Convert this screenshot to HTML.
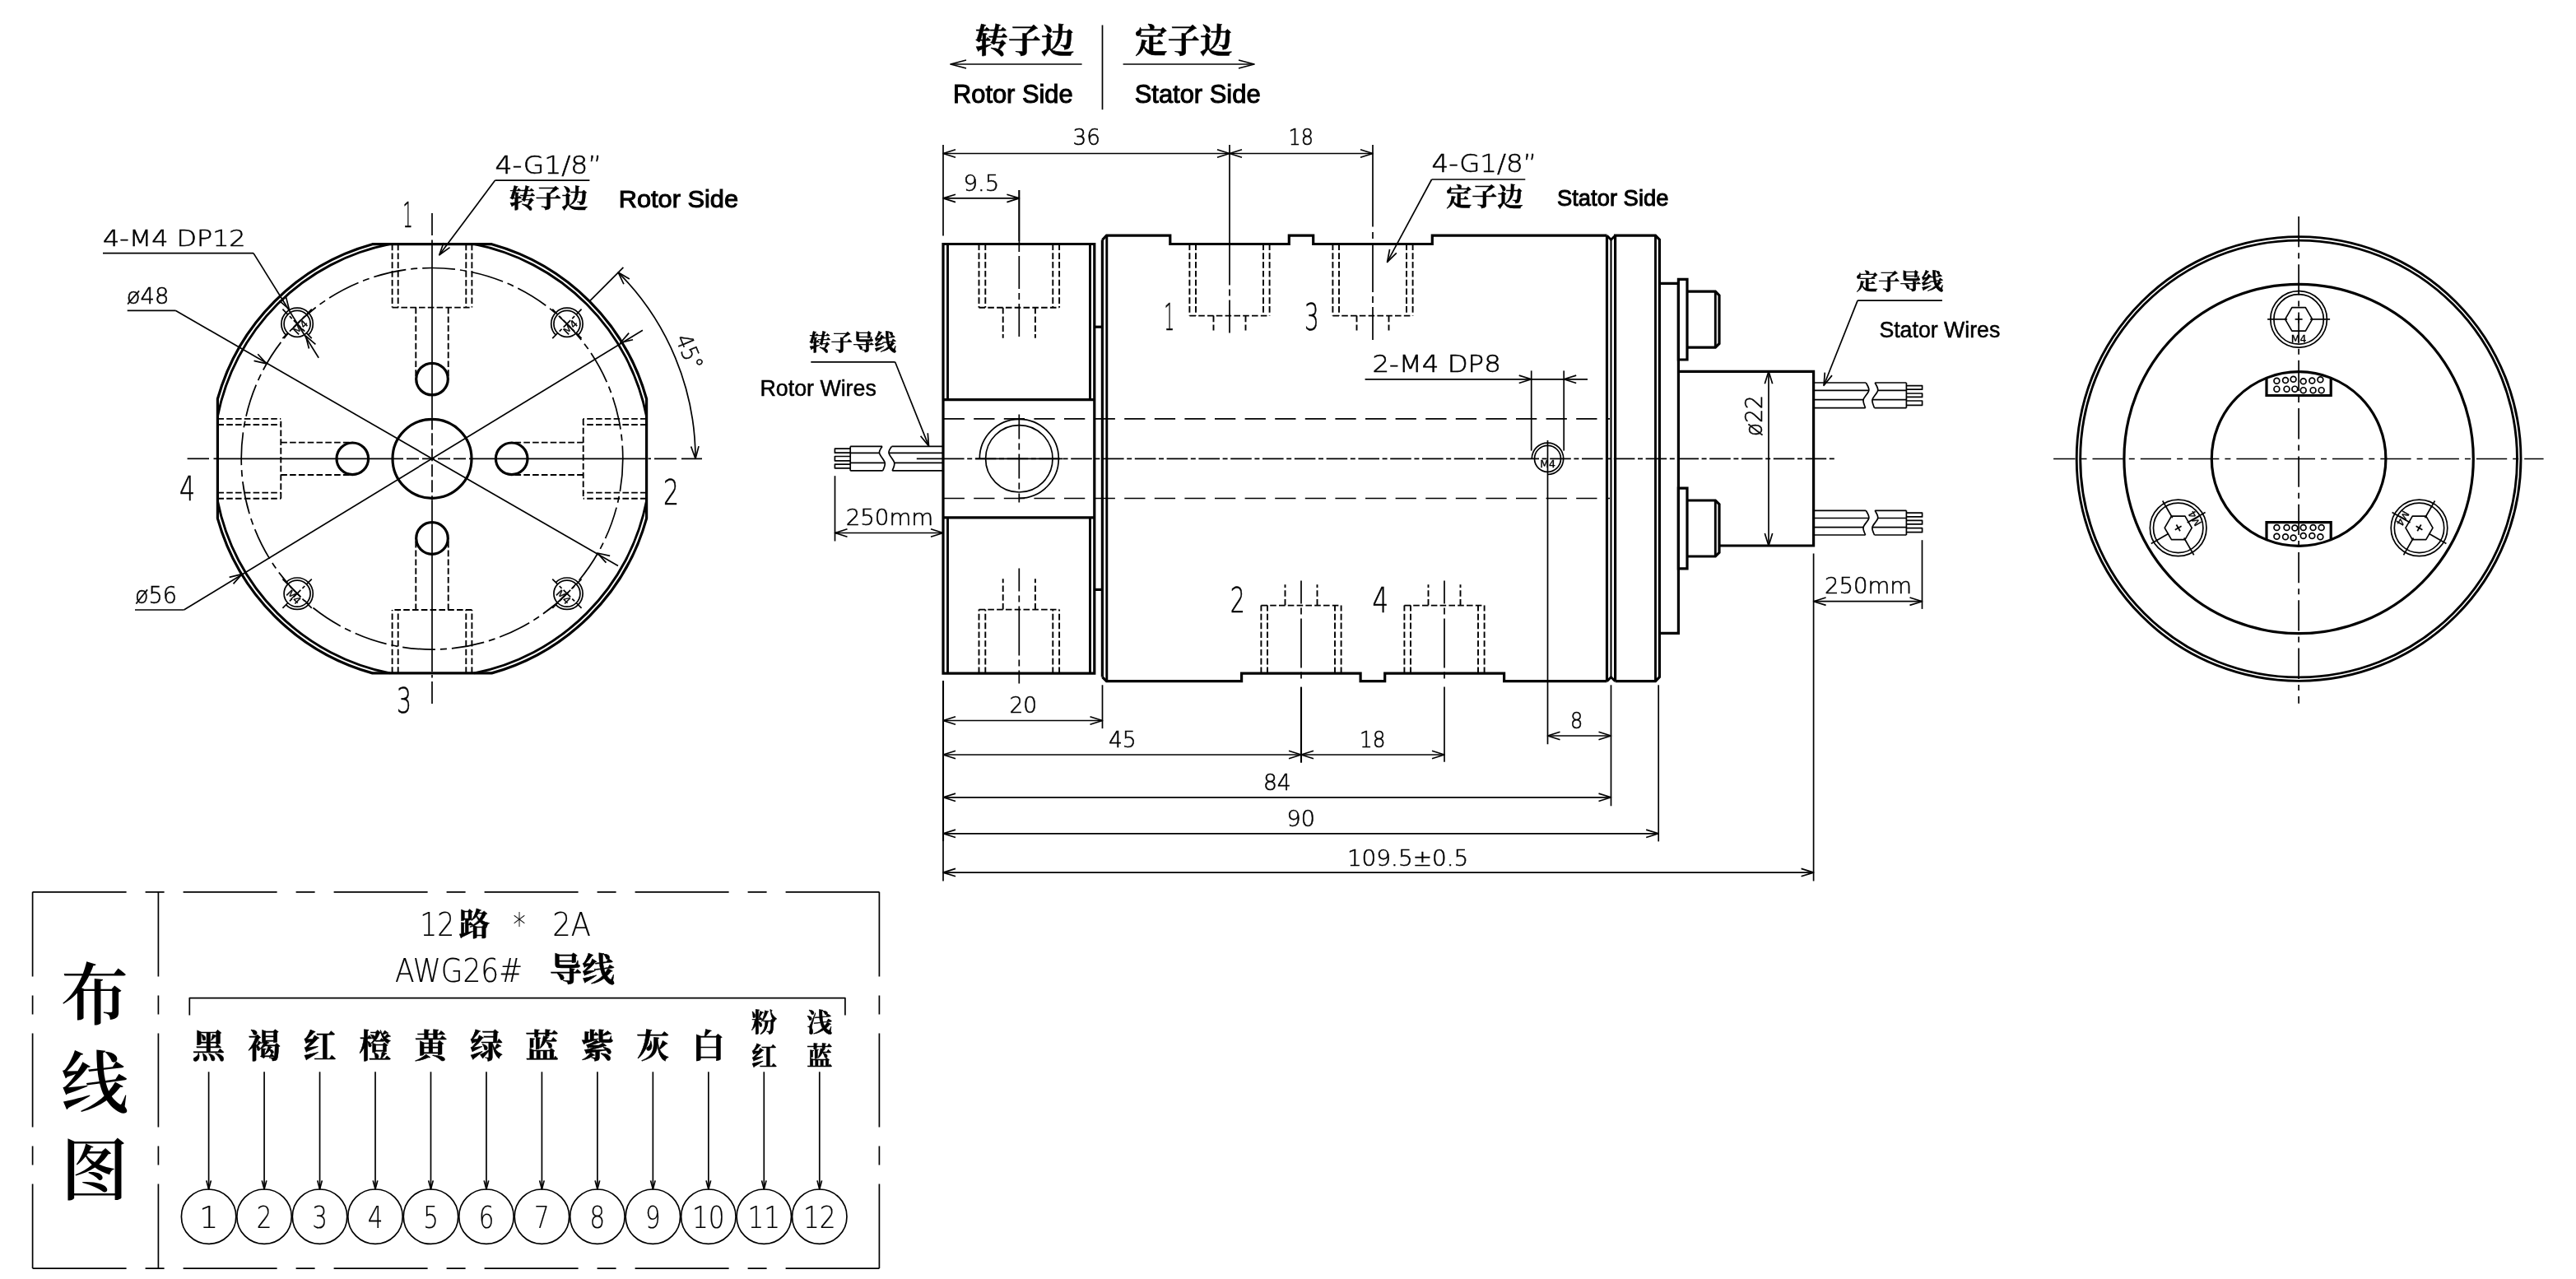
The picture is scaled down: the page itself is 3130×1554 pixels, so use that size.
<!DOCTYPE html>
<html lang="zh"><head><meta charset="utf-8"><title>Slip ring drawing</title>
<style>
html,body{margin:0;padding:0;background:#fff}
svg{display:block;will-change:transform}
path,circle{fill:none;stroke:#000}
.k{stroke-width:3.2;stroke-linejoin:miter}
.m{stroke-width:2.9}
.m2{stroke-width:2.1}
.t{stroke-width:1.7;stroke-linejoin:round}
.t2{stroke-width:2.1}
.c{stroke-width:1.7}
.h{stroke-width:1.9;stroke-dasharray:7.6 3.2}
text{fill:#000;stroke:none}
.cad{font-family:"DejaVu Sans Light","DejaVu Sans","Liberation Sans",sans-serif;font-weight:200;stroke:#000;stroke-width:0.55}
.cadl{font-family:"DejaVu Sans Light","DejaVu Sans","Liberation Sans",sans-serif;font-weight:200;stroke:#000;stroke-width:0.2}
.cadb{font-family:"DejaVu Sans","Liberation Sans",sans-serif;stroke:#000;stroke-width:0.35}
.a{font-family:"Liberation Sans",Arial,sans-serif;stroke:#000;stroke-width:0.5}
.ab{font-family:"Liberation Sans",Arial,sans-serif;stroke:#000;stroke-width:1}
.zb{font-family:"Liberation Serif","Noto Serif CJK SC",serif;font-weight:700;stroke:#000;stroke-width:0.5}
.zm{font-family:"Liberation Serif","Noto Serif CJK SC",serif;font-weight:600}
</style></head><body>
<svg width="3130" height="1554" viewBox="0 0 3130 1554">
<rect width="3130" height="1554" fill="#fff" stroke="none"/>
<path class="k" d="M452.49 296.7L597.51 296.7A270.5 270.5 0 0 1 785.6 484.79L785.6 629.81A270.5 270.5 0 0 1 597.51 817.9L452.49 817.9A270.5 270.5 0 0 1 264.4 629.81L264.4 484.79A270.5 270.5 0 0 1 452.49 296.7Z"/>
<path class="m" d="M785.6 506.01A265.6 265.6 0 0 0 576.29 296.7"/>
<path class="m" d="M473.71 296.7A265.6 265.6 0 0 0 264.4 506.01"/>
<path class="m" d="M264.4 608.59A265.6 265.6 0 0 0 473.71 817.9"/>
<path class="m" d="M576.29 817.9A265.6 265.6 0 0 0 785.6 608.59"/>
<circle class="c" cx="525" cy="557.3" r="231.8" stroke-dasharray="40 6 8 6"/>
<path class="c" d="M227.6 557.3L254 557.3"/>
<path class="c" d="M259.5 557.3L263 557.3"/>
<path class="c" d="M266 557.3L475 557.3"/>
<path class="c" d="M475 557.3L575 557.3" stroke-dasharray="15 4"/>
<path class="c" d="M575 557.3L784 557.3"/>
<path class="c" d="M787.5 557.3L791 557.3"/>
<path class="c" d="M795 557.3L853 557.3" stroke-dasharray="27 6 30"/>
<path class="c" d="M525 259L525 286"/>
<path class="c" d="M525 291.5L525 295"/>
<path class="c" d="M525 298L525 507.3"/>
<path class="c" d="M525 507.3L525 607.3" stroke-dasharray="15 4"/>
<path class="c" d="M525 607.3L525 816"/>
<path class="c" d="M525 820L525 823.5"/>
<path class="c" d="M525 828L525 855"/>
<circle class="k" cx="525" cy="557.3" r="48"/>
<g transform="rotate(0 525 557.3)">
<circle class="k" cx="525" cy="460.6" r="19.3"/>
<path class="h" d="M483.7 296.7L483.7 373.6"/>
<path class="h" d="M566.3 296.7L566.3 373.6"/>
<path class="h" d="M476.6 296.7L476.6 373.6"/>
<path class="h" d="M573.4 296.7L573.4 373.6"/>
<path class="h" d="M476.6 373.6L573.4 373.6"/>
<path class="h" d="M505.3 373.6L505.3 460.6"/>
<path class="h" d="M544.7 373.6L544.7 460.6"/>
</g>
<g transform="rotate(90 525 557.3)">
<circle class="k" cx="525" cy="460.6" r="19.3"/>
<path class="h" d="M483.7 296.7L483.7 373.6"/>
<path class="h" d="M566.3 296.7L566.3 373.6"/>
<path class="h" d="M476.6 296.7L476.6 373.6"/>
<path class="h" d="M573.4 296.7L573.4 373.6"/>
<path class="h" d="M476.6 373.6L573.4 373.6"/>
<path class="h" d="M505.3 373.6L505.3 460.6"/>
<path class="h" d="M544.7 373.6L544.7 460.6"/>
</g>
<g transform="rotate(180 525 557.3)">
<circle class="k" cx="525" cy="460.6" r="19.3"/>
<path class="h" d="M483.7 296.7L483.7 373.6"/>
<path class="h" d="M566.3 296.7L566.3 373.6"/>
<path class="h" d="M476.6 296.7L476.6 373.6"/>
<path class="h" d="M573.4 296.7L573.4 373.6"/>
<path class="h" d="M476.6 373.6L573.4 373.6"/>
<path class="h" d="M505.3 373.6L505.3 460.6"/>
<path class="h" d="M544.7 373.6L544.7 460.6"/>
</g>
<g transform="rotate(270 525 557.3)">
<circle class="k" cx="525" cy="460.6" r="19.3"/>
<path class="h" d="M483.7 296.7L483.7 373.6"/>
<path class="h" d="M566.3 296.7L566.3 373.6"/>
<path class="h" d="M476.6 296.7L476.6 373.6"/>
<path class="h" d="M573.4 296.7L573.4 373.6"/>
<path class="h" d="M476.6 373.6L573.4 373.6"/>
<path class="h" d="M505.3 373.6L505.3 460.6"/>
<path class="h" d="M544.7 373.6L544.7 460.6"/>
</g>
<g transform="rotate(-45 361.09 393.39)">
<circle class="t" cx="361.09" cy="393.39" r="16"/>
<path class="t" d="M361.09 412.59A19.2 19.2 0 1 0 341.89 393.39"/>
<path class="t" d="M336.09 393.39L386.09 393.39" stroke-dasharray="9 3 4 3 12 3 4 3 9"/>
<path class="t" d="M361.09 368.39L361.09 418.39" stroke-dasharray="9 3 4 3 12 3 4 3 9"/>
<text class="cadb" x="361.09" y="403.89" font-size="12.5" text-anchor="middle">M4</text>
</g>
<g transform="rotate(-45 688.91 393.39)">
<circle class="t" cx="688.91" cy="393.39" r="16"/>
<path class="t" d="M688.91 412.59A19.2 19.2 0 1 0 669.71 393.39"/>
<path class="t" d="M663.91 393.39L713.91 393.39" stroke-dasharray="9 3 4 3 12 3 4 3 9"/>
<path class="t" d="M688.91 368.39L688.91 418.39" stroke-dasharray="9 3 4 3 12 3 4 3 9"/>
<text class="cadb" x="688.91" y="403.89" font-size="12.5" text-anchor="middle">M4</text>
</g>
<g transform="rotate(45 688.91 721.21)">
<circle class="t" cx="688.91" cy="721.21" r="16"/>
<path class="t" d="M688.91 740.41A19.2 19.2 0 1 0 669.71 721.21"/>
<path class="t" d="M663.91 721.21L713.91 721.21" stroke-dasharray="9 3 4 3 12 3 4 3 9"/>
<path class="t" d="M688.91 696.21L688.91 746.21" stroke-dasharray="9 3 4 3 12 3 4 3 9"/>
<text class="cadb" x="688.91" y="731.71" font-size="12.5" text-anchor="middle">M4</text>
</g>
<g transform="rotate(45 361.09 721.21)">
<circle class="t" cx="361.09" cy="721.21" r="16"/>
<path class="t" d="M361.09 740.41A19.2 19.2 0 1 0 341.89 721.21"/>
<path class="t" d="M336.09 721.21L386.09 721.21" stroke-dasharray="9 3 4 3 12 3 4 3 9"/>
<path class="t" d="M361.09 696.21L361.09 746.21" stroke-dasharray="9 3 4 3 12 3 4 3 9"/>
<text class="cadb" x="361.09" y="731.71" font-size="12.5" text-anchor="middle">M4</text>
</g>
<path class="t" d="M154.7 377.3L213.2 377.3"/>
<path class="t" d="M213.2 377.3L751 687.6"/>
<path class="t" d="M308.56 438.37L323.9 441.8L313.26 430.23"/>
<path class="t" d="M741.14 675.43L725.8 672L736.44 683.57"/>
<path class="t" d="M164 741L223.5 741"/>
<path class="t" d="M223.5 741L780.9 401.3"/>
<path class="t" d="M283.54 709.42L293.9 697.6L278.65 701.39"/>
<path class="t" d="M764.16 404.68L753.8 416.5L769.05 412.71"/>
<path class="t" d="M125 307.6L308 307.6"/>
<path class="t" d="M308 307.6L387.2 434.7"/>
<path class="t" d="M339.38 365.35L351.3 375.6L347.36 360.38"/>
<path class="t" d="M383.42 418.45L371.5 408.2L375.44 423.42"/>
<path class="t" d="M601.6 219.1L716.4 219.1"/>
<path class="t" d="M601.6 219.1L533.8 309.8"/>
<path class="t" d="M539.02 294.97L533.8 309.8L546.55 300.6"/>
<path class="t" d="M845 557.3A320 320 0 0 0 751.27 331.03"/>
<path class="t" d="M839.65 542.52L845 557.3L849.04 542.11"/>
<path class="t" d="M764.87 338.91L751.27 331.03L757.94 345.26"/>
<path class="t" d="M716.5 365.9L757.4 324.9"/>
<text class="cad" font-size="27.4" text-anchor="middle" textLength="44" lengthAdjust="spacingAndGlyphs" transform="translate(828.96 431.4) rotate(67.5)">45°</text>
<text class="cad" x="125" y="298.8" font-size="26.61" textLength="173.6" lengthAdjust="spacingAndGlyphs">4-M4 DP12</text>
<text class="cad" x="153.8" y="368.6" font-size="25.79" textLength="51.6" lengthAdjust="spacingAndGlyphs">ø48</text>
<text class="cad" x="164" y="732.5" font-size="28.81" textLength="51" lengthAdjust="spacingAndGlyphs">ø56</text>
<text class="cad" x="489.5" y="276.3" font-size="42.94" textLength="12" lengthAdjust="spacingAndGlyphs">1</text>
<text class="cad" x="806" y="613" font-size="42.52" textLength="19" lengthAdjust="spacingAndGlyphs">2</text>
<text class="cad" x="482" y="866" font-size="42.52" textLength="18" lengthAdjust="spacingAndGlyphs">3</text>
<text class="cad" x="218" y="608" font-size="41.15" textLength="19" lengthAdjust="spacingAndGlyphs">4</text>
<text class="cad" x="601.6" y="210.6" font-size="29.9" textLength="129.8" lengthAdjust="spacingAndGlyphs">4-G1/8”</text>
<text class="zb" x="618.8" y="251.5" font-size="31" textLength="95.4" lengthAdjust="spacingAndGlyphs">转子边</text>
<text class="ab" x="751.7" y="251.9" font-size="29" textLength="145.4" lengthAdjust="spacingAndGlyphs">Rotor Side</text>
<path class="k" d="M1146 296.5L1329.8 296.5L1329.8 818.2L1146 818.2Z"/>
<path class="k" d="M1146 485.6L1329.8 485.6"/>
<path class="k" d="M1146 628.8L1329.8 628.8"/>
<path class="m" d="M1151.5 296.5L1151.5 485.6"/>
<path class="m" d="M1324.5 296.5L1324.5 485.6"/>
<path class="m" d="M1151.5 628.8L1151.5 818.2"/>
<path class="m" d="M1324.5 628.8L1324.5 818.2"/>
<path class="k" d="M1329.8 397.2L1339.4 397.2"/>
<path class="k" d="M1329.8 716.4L1339.4 716.4"/>
<path class="h" d="M1197.3 296.5L1197.3 373.7"/>
<path class="h" d="M1279.3 296.5L1279.3 373.7"/>
<path class="h" d="M1189.5 296.5L1189.5 373.7"/>
<path class="h" d="M1287.1 296.5L1287.1 373.7"/>
<path class="h" d="M1189.5 373.7L1287.1 373.7"/>
<path class="h" d="M1218.7 373.7L1218.7 410.7"/>
<path class="h" d="M1257.9 373.7L1257.9 410.7"/>
<path class="h" d="M1197.3 818.2L1197.3 740.6"/>
<path class="h" d="M1279.3 818.2L1279.3 740.6"/>
<path class="h" d="M1189.5 818.2L1189.5 740.6"/>
<path class="h" d="M1287.1 818.2L1287.1 740.6"/>
<path class="h" d="M1189.5 740.6L1287.1 740.6"/>
<path class="h" d="M1218.7 740.6L1218.7 703.3"/>
<path class="h" d="M1257.9 740.6L1257.9 703.3"/>
<path class="c" d="M1238.3 231L1238.3 410.7" stroke-dasharray="62 5 8 5 40 5 8 5 40 5"/>
<path class="c" d="M1238.3 690.4L1238.3 830.4" stroke-dasharray="28 5 8 5 60 5 8 5 40"/>
<circle class="t" cx="1238.3" cy="557.3" r="40.7"/>
<path class="t" d="M1238.3 605.3A48 48 0 1 0 1190.3 557.3"/>
<path class="c" d="M1238.3 503.6L1238.3 610.4" stroke-dasharray="30 5 8 5 30 5 8 5 30"/>
<path class="c" d="M1185.3 557.3L1291.3 557.3"/>
<path class="k" d="M1339.4 291.5L1344.5 286.2L1421.8 286.2L1421.8 296.5L1566.3 296.5L1566.3 286.2L1595.7 286.2L1595.7 296.5L1740.3 296.5L1740.3 286.2L1952.5 286.2"/>
<path class="k" d="M1339.4 822.6L1344.5 827.7L1508.6 827.7L1508.6 818.2L1653.1 818.2L1653.1 827.7L1682.7 827.7L1682.7 818.2L1827.6 818.2L1827.6 827.7L1952.5 827.7"/>
<path class="k" d="M1339.4 291.5L1339.4 822.6"/>
<path class="m" d="M1344.8 286.2L1344.8 827.7"/>
<path class="k" d="M1952.5 286.2L1952.5 827.7"/>
<path class="m" d="M1952.5 286.2L1957.5 291.2L1962.6 286.2"/>
<path class="m" d="M1952.5 827.7L1957.5 822.7L1962.6 827.7"/>
<path class="m2" d="M1957.5 291.2L1957.5 822.7"/>
<path class="k" d="M1962.6 827.7L1962.6 286.2L2011.5 286.2L2016.4 291.2L2016.4 822.7L2011.5 827.7L1962.6 827.7"/>
<path class="m" d="M2011.5 286.2L2011.5 827.7"/>
<path class="k" d="M2016.4 344.3L2039.4 344.3L2039.4 769.4L2016.4 769.4"/>
<path class="k" d="M2039.4 339.4L2050 339.4L2050 437L2039.4 437Z"/>
<path class="k" d="M2050 354.2L2084.3 354.2L2089 358.9L2089 417.5L2084.3 422.2L2050 422.2"/>
<path class="m" d="M2084.3 354.2L2084.3 422.2"/>
<path class="k" d="M2039.4 593.2L2050 593.2L2050 690.8L2039.4 690.8Z"/>
<path class="k" d="M2050 608L2084.3 608L2089 612.7L2089 671.3L2084.3 676L2050 676"/>
<path class="m" d="M2084.3 608L2084.3 676"/>
<path class="k" d="M2039.4 451.3L2203.6 451.3L2203.6 663L2089 663"/>
<path class="h" d="M1453 296.5L1453 383.6"/>
<path class="h" d="M1535 296.5L1535 383.6"/>
<path class="h" d="M1445.4 296.5L1445.4 383.6"/>
<path class="h" d="M1542.6 296.5L1542.6 383.6"/>
<path class="h" d="M1445.4 383.6L1542.6 383.6"/>
<path class="h" d="M1474.5 383.6L1474.5 401.5"/>
<path class="h" d="M1513.5 383.6L1513.5 401.5"/>
<path class="h" d="M1627 296.5L1627 383.6"/>
<path class="h" d="M1709 296.5L1709 383.6"/>
<path class="h" d="M1619.4 296.5L1619.4 383.6"/>
<path class="h" d="M1716.6 296.5L1716.6 383.6"/>
<path class="h" d="M1619.4 383.6L1716.6 383.6"/>
<path class="h" d="M1648.5 383.6L1648.5 401.5"/>
<path class="h" d="M1687.5 383.6L1687.5 401.5"/>
<path class="h" d="M1540 818.2L1540 735.6"/>
<path class="h" d="M1622 818.2L1622 735.6"/>
<path class="h" d="M1532.4 818.2L1532.4 735.6"/>
<path class="h" d="M1629.6 818.2L1629.6 735.6"/>
<path class="h" d="M1532.4 735.6L1629.6 735.6"/>
<path class="h" d="M1561.5 735.6L1561.5 710.3"/>
<path class="h" d="M1600.5 735.6L1600.5 710.3"/>
<path class="h" d="M1714 818.2L1714 735.6"/>
<path class="h" d="M1796 818.2L1796 735.6"/>
<path class="h" d="M1706.4 818.2L1706.4 735.6"/>
<path class="h" d="M1803.6 818.2L1803.6 735.6"/>
<path class="h" d="M1706.4 735.6L1803.6 735.6"/>
<path class="h" d="M1735.5 735.6L1735.5 710.3"/>
<path class="h" d="M1774.5 735.6L1774.5 710.3"/>
<path class="t" d="M1494 176L1494 296.5"/>
<path class="c" d="M1494 296.5L1494 413.7" stroke-dasharray="50 5 8 5 40"/>
<path class="t" d="M1668 176L1668 275.5"/>
<path class="c" d="M1668 282L1668 413.9" stroke-dasharray="8 5 60 5 8 5 40"/>
<path class="c" d="M1581 705.6L1581 825.2" stroke-dasharray="28 5 8 5 60 5 8"/>
<path class="t2" d="M1581 834.6L1581 926.7"/>
<path class="c" d="M1755 705.6L1755 825.2" stroke-dasharray="28 5 8 5 60 5 8"/>
<path class="t" d="M1755 834.6L1755 925.7"/>
<path class="t" d="M1146.6 508.8L1956 508.8" stroke-dasharray="25.3 11.3"/>
<path class="t" d="M1146.6 605.5L1956 605.5" stroke-dasharray="25.3 11.3"/>
<path class="t" d="M1113.8 557.3L1146 557.3"/>
<path class="c" d="M1146 557.3L2230.3 557.3" stroke-dasharray="25.6 3.6 6 3.6"/>
<g transform="rotate(0 1880.5 557.3)">
<circle class="t" cx="1880.5" cy="557.3" r="16"/>
<path class="t" d="M1880.5 576.5A19.2 19.2 0 1 0 1861.3 557.3"/>
<text class="cadb" x="1880.5" y="567.8" font-size="12.5" text-anchor="middle">M4</text>
</g>
<path class="t" d="M1880.5 535L1880.5 904.3"/>
<path class="t" d="M1860.7 450.4L1860.7 547.6"/>
<path class="t" d="M1900.2 450.4L1900.2 547.6"/>
<path class="t" d="M1658.6 460.8L1929 460.8"/>
<path class="t" d="M1845.7 465.5L1860.7 460.8L1845.7 456.1"/>
<path class="t" d="M1915.2 456.1L1900.2 460.8L1915.2 465.5"/>
<text class="cad" x="1667.4" y="451.8" font-size="28.12" textLength="156.4" lengthAdjust="spacingAndGlyphs">2-M4 DP8</text>
<path class="t" d="M1146 176L1146 286.6"/>
<path class="t" d="M1238.4 231L1238.4 296"/>
<path class="t" d="M1146 186.5L1494 186.5"/>
<path class="t" d="M1161 181.8L1146 186.5L1161 191.2"/>
<path class="t" d="M1479 191.2L1494 186.5L1479 181.8"/>
<path class="t" d="M1494 186.5L1668 186.5"/>
<path class="t" d="M1509 181.8L1494 186.5L1509 191.2"/>
<path class="t" d="M1653 191.2L1668 186.5L1653 181.8"/>
<path class="t" d="M1146 240.9L1238.4 240.9"/>
<path class="t" d="M1161 236.2L1146 240.9L1161 245.6"/>
<path class="t" d="M1223.4 245.6L1238.4 240.9L1223.4 236.2"/>
<text class="cad" x="1303.6" y="176.4" font-size="25.79" textLength="33.4" lengthAdjust="spacingAndGlyphs">36</text>
<text class="cad" x="1565.6" y="176.4" font-size="25.79" textLength="30.4" lengthAdjust="spacingAndGlyphs">18</text>
<text class="cad" x="1170.4" y="232.2" font-size="26.89" textLength="43.8" lengthAdjust="spacingAndGlyphs">9.5</text>
<text class="cad" x="1414.5" y="401.3" font-size="44.03" textLength="12.5" lengthAdjust="spacingAndGlyphs">1</text>
<text class="cad" x="1585" y="401.3" font-size="44.03" textLength="17.7" lengthAdjust="spacingAndGlyphs">3</text>
<text class="cad" x="1494.8" y="744.3" font-size="43.35" textLength="18" lengthAdjust="spacingAndGlyphs">2</text>
<text class="cad" x="1667.6" y="744.3" font-size="43.35" textLength="19.5" lengthAdjust="spacingAndGlyphs">4</text>
<path class="t" d="M1739.6 218L1853.3 218"/>
<path class="t" d="M1739.6 218L1685.6 318.4"/>
<path class="t" d="M1688.57 302.96L1685.6 318.4L1696.84 307.42"/>
<text class="cad" x="1739.6" y="208.6" font-size="29.63" textLength="127.8" lengthAdjust="spacingAndGlyphs">4-G1/8”</text>
<text class="zb" x="1757.2" y="249.5" font-size="31" textLength="93.3" lengthAdjust="spacingAndGlyphs">定子边</text>
<text class="ab" x="1892" y="249.7" font-size="28.5" textLength="135.4" lengthAdjust="spacingAndGlyphs">Stator Side</text>
<path class="t" d="M2149 451.3L2149 663"/>
<path class="t" d="M2153.7 466.3L2149 451.3L2144.3 466.3"/>
<path class="t" d="M2144.3 648L2149 663L2153.7 648"/>
<text class="cad" font-size="29" textLength="49.7" lengthAdjust="spacingAndGlyphs" transform="translate(2141 530) rotate(-90)">ø22</text>
<path class="t" d="M1146 542.4L1083.5 542.4"/>
<path class="t" d="M1072 542.4L1033.2 542.4"/>
<path class="t" d="M1146 550.4L1080 550.4"/>
<path class="t" d="M1068.5 550.4L1033.2 550.4"/>
<path class="t" d="M1146 562.4L1086.7 562.4"/>
<path class="t" d="M1075.2 562.4L1033.2 562.4"/>
<path class="t" d="M1146 571.9L1084.2 571.9"/>
<path class="t" d="M1072.7 571.9L1033.2 571.9"/>
<path class="t" d="M1033.2 542.4L1033.2 571.9"/>
<path class="t" d="M1083.5 542.4C1082.92 543.73 1079.47 547.07 1080 550.4C1080.53 553.73 1086 558.82 1086.7 562.4C1087.4 565.98 1084.62 570.32 1084.2 571.9"/>
<path class="t" d="M1072 542.4C1071.42 543.73 1067.97 547.07 1068.5 550.4C1069.03 553.73 1074.5 558.82 1075.2 562.4C1075.9 565.98 1073.12 570.32 1072.7 571.9"/>
<path class="t" d="M1033.2 545.2L1014.4 545.2L1014.4 550.2L1033.2 550.2"/>
<path class="t" d="M1033.2 554.5L1014.4 554.5L1014.4 559.8L1033.2 559.8"/>
<path class="t" d="M1033.2 564.2L1014.4 564.2L1014.4 568.8L1033.2 568.8"/>
<path class="t" d="M2205 465L2267.3 465"/>
<path class="t" d="M2278.2 465L2316.4 465"/>
<path class="t" d="M2205 474.3L2270.8 474.3"/>
<path class="t" d="M2281.7 474.3L2316.4 474.3"/>
<path class="t" d="M2205 485.6L2264.1 485.6"/>
<path class="t" d="M2275 485.6L2316.4 485.6"/>
<path class="t" d="M2205 495.6L2266.6 495.6"/>
<path class="t" d="M2277.5 495.6L2316.4 495.6"/>
<path class="t" d="M2316.4 465L2316.4 495.6"/>
<path class="t" d="M2267.3 465C2267.88 466.55 2271.33 470.87 2270.8 474.3C2270.27 477.73 2264.8 482.05 2264.1 485.6C2263.4 489.15 2266.18 493.93 2266.6 495.6"/>
<path class="t" d="M2278.2 465C2278.78 466.55 2282.23 470.87 2281.7 474.3C2281.17 477.73 2275.7 482.05 2275 485.6C2274.3 489.15 2277.08 493.93 2277.5 495.6"/>
<path class="t" d="M2316.4 468.6L2335.6 468.6L2335.6 473.2L2316.4 473.2"/>
<path class="t" d="M2316.4 478L2335.6 478L2335.6 482.4L2316.4 482.4"/>
<path class="t" d="M2316.4 487L2335.6 487L2335.6 492.3L2316.4 492.3"/>
<path class="t" d="M2205 620.3L2267.3 620.3"/>
<path class="t" d="M2278.2 620.3L2316.4 620.3"/>
<path class="t" d="M2205 629.5L2270.8 629.5"/>
<path class="t" d="M2281.7 629.5L2316.4 629.5"/>
<path class="t" d="M2205 640.6L2264.1 640.6"/>
<path class="t" d="M2275 640.6L2316.4 640.6"/>
<path class="t" d="M2205 650L2266.6 650"/>
<path class="t" d="M2277.5 650L2316.4 650"/>
<path class="t" d="M2316.4 620.3L2316.4 650"/>
<path class="t" d="M2267.3 620.3C2267.88 621.83 2271.33 626.12 2270.8 629.5C2270.27 632.88 2264.8 637.18 2264.1 640.6C2263.4 644.02 2266.18 648.43 2266.6 650"/>
<path class="t" d="M2278.2 620.3C2278.78 621.83 2282.23 626.12 2281.7 629.5C2281.17 632.88 2275.7 637.18 2275 640.6C2274.3 644.02 2277.08 648.43 2277.5 650"/>
<path class="t" d="M2316.4 623.2L2335.6 623.2L2335.6 627.9L2316.4 627.9"/>
<path class="t" d="M2316.4 632.4L2335.6 632.4L2335.6 636.9L2316.4 636.9"/>
<path class="t" d="M2316.4 641.6L2335.6 641.6L2335.6 646.7L2316.4 646.7"/>
<path class="t" d="M985.3 439.8L1087.6 439.8"/>
<path class="t" d="M1087.6 439.8L1128.5 541.9"/>
<path class="t" d="M1118.56 529.72L1128.5 541.9L1127.29 526.23"/>
<text class="zb" x="983" y="425.5" font-size="27" textLength="106" lengthAdjust="spacingAndGlyphs">转子导线</text>
<text class="a" x="923.5" y="480.9" font-size="28" textLength="141.3" lengthAdjust="spacingAndGlyphs">Rotor Wires</text>
<path class="t" d="M2257.1 365.1L2359.9 365.1"/>
<path class="t" d="M2257.1 365.1L2216.1 468.3"/>
<path class="t" d="M2217.27 452.62L2216.1 468.3L2226.01 456.1"/>
<text class="zb" x="2255.5" y="351.5" font-size="27" textLength="105.6" lengthAdjust="spacingAndGlyphs">定子导线</text>
<text class="a" x="2283.4" y="409.6" font-size="27.7" textLength="146.9" lengthAdjust="spacingAndGlyphs">Stator Wires</text>
<path class="t" d="M1014.5 578.2L1014.5 657.5"/>
<path class="t" d="M1014.5 647.5L1146 647.5"/>
<path class="t" d="M1029.5 642.8L1014.5 647.5L1029.5 652.2"/>
<path class="t" d="M1131 652.2L1146 647.5L1131 642.8"/>
<text class="cad" x="1027.7" y="638" font-size="27.3" textLength="106.5" lengthAdjust="spacingAndGlyphs">250mm</text>
<path class="t" d="M2203.6 672.5L2203.6 1070.6"/>
<path class="t" d="M2335.5 656.2L2335.5 739.9"/>
<path class="t" d="M2203.6 730.7L2335.5 730.7"/>
<path class="t" d="M2218.6 726L2203.6 730.7L2218.6 735.4"/>
<path class="t" d="M2320.5 735.4L2335.5 730.7L2320.5 726"/>
<text class="cad" x="2217" y="721.3" font-size="27.3" textLength="106.2" lengthAdjust="spacingAndGlyphs">250mm</text>
<path class="t2" d="M1146 827L1146 1022"/>
<path class="t" d="M1146 1022L1146 1070.6"/>
<path class="t" d="M1339.5 832.3L1339.5 885.1"/>
<path class="t" d="M1146 875.5L1339.5 875.5"/>
<path class="t" d="M1161 870.8L1146 875.5L1161 880.2"/>
<path class="t" d="M1324.5 880.2L1339.5 875.5L1324.5 870.8"/>
<text class="cad" x="1226.5" y="866.3" font-size="27.16" textLength="33.5" lengthAdjust="spacingAndGlyphs">20</text>
<path class="t" d="M1146 917L1581 917"/>
<path class="t" d="M1161 912.3L1146 917L1161 921.7"/>
<path class="t" d="M1566 921.7L1581 917L1566 912.3"/>
<text class="cad" x="1346.9" y="907.6" font-size="27.16" textLength="33.8" lengthAdjust="spacingAndGlyphs">45</text>
<path class="t" d="M1581 917L1755 917"/>
<path class="t" d="M1596 912.3L1581 917L1596 921.7"/>
<path class="t" d="M1740 921.7L1755 917L1740 912.3"/>
<text class="cad" x="1652" y="907.6" font-size="27.16" textLength="31.5" lengthAdjust="spacingAndGlyphs">18</text>
<path class="t" d="M1880.5 894L1957.5 894"/>
<path class="t" d="M1895.5 889.3L1880.5 894L1895.5 898.7"/>
<path class="t" d="M1942.5 898.7L1957.5 894L1942.5 889.3"/>
<text class="cad" x="1908" y="885.1" font-size="26.47" textLength="15.3" lengthAdjust="spacingAndGlyphs">8</text>
<path class="t" d="M1957.5 832.3L1957.5 979.3"/>
<path class="t" d="M1146 968.8L1957.5 968.8"/>
<path class="t" d="M1161 964.1L1146 968.8L1161 973.5"/>
<path class="t" d="M1942.5 973.5L1957.5 968.8L1942.5 964.1"/>
<text class="cad" x="1534.9" y="960" font-size="26.61" textLength="33.8" lengthAdjust="spacingAndGlyphs">84</text>
<path class="t" d="M2015.2 832.3L2015.2 1022.4"/>
<path class="t" d="M1146 1012.8L2015.2 1012.8"/>
<path class="t" d="M1161 1008.1L1146 1012.8L1161 1017.5"/>
<path class="t" d="M2000.2 1017.5L2015.2 1012.8L2000.2 1008.1"/>
<text class="cad" x="1563.5" y="1004.2" font-size="27.16" textLength="34.3" lengthAdjust="spacingAndGlyphs">90</text>
<path class="t" d="M1146 1060.1L2203.6 1060.1"/>
<path class="t" d="M1161 1055.4L1146 1060.1L1161 1064.8"/>
<path class="t" d="M2188.6 1064.8L2203.6 1060.1L2188.6 1055.4"/>
<text class="cad" x="1636.9" y="1051.5" font-size="26.47" textLength="147.4" lengthAdjust="spacingAndGlyphs">109.5±0.5</text>
<path class="t" d="M1155 78L1314.6 78"/>
<path class="t" d="M1174 73L1155 78L1174 83"/>
<path class="t" d="M1364.6 78L1524 78"/>
<path class="t" d="M1505 83L1524 78L1505 73"/>
<path class="t" d="M1339.5 30.5L1339.5 133.2"/>
<text class="zb" x="1184.4" y="64" font-size="41" textLength="120.9" lengthAdjust="spacingAndGlyphs">转子边</text>
<text class="zb" x="1379" y="64" font-size="41" textLength="118.6" lengthAdjust="spacingAndGlyphs">定子边</text>
<text class="ab" x="1158" y="125" font-size="30.5" textLength="145.6" lengthAdjust="spacingAndGlyphs">Rotor Side</text>
<text class="ab" x="1378.7" y="125" font-size="30.5" textLength="152.9" lengthAdjust="spacingAndGlyphs">Stator Side</text>
<circle class="m" cx="2793.1" cy="557.5" r="269.9"/>
<circle class="m" cx="2793.1" cy="557.5" r="265.4"/>
<circle class="k" cx="2793.1" cy="557.5" r="212.2"/>
<circle class="k" cx="2793.1" cy="557.5" r="105.8"/>
<path class="c" d="M2495.1 557.5L3090.6 557.5" stroke-dasharray="37.3 7 7 7" stroke-dashoffset="10.9"/>
<path class="c" d="M2793.1 258.9L2793.1 854.7" stroke-dasharray="37.3 7 7 7" stroke-dashoffset="-4"/>
<path class="k" d="M2754 458.97L2754 480.5L2832.2 480.5L2832.2 458.97"/>
<path class="k" d="M2754 656.03L2754 634.6L2832.2 634.6L2832.2 656.03"/>
<circle class="t" cx="2766.4" cy="462.81" r="3.4"/>
<circle class="t" cx="2777" cy="462.05" r="3.4"/>
<circle class="t" cx="2786.59" cy="460.79" r="3.4"/>
<circle class="t" cx="2798.7" cy="463.32" r="3.4"/>
<circle class="t" cx="2809.3" cy="462.56" r="3.4"/>
<circle class="t" cx="2819.39" cy="461.3" r="3.4"/>
<circle class="t" cx="2766.4" cy="472.65" r="3.4"/>
<circle class="t" cx="2778.51" cy="472.65" r="3.4"/>
<circle class="t" cx="2788.35" cy="472.65" r="3.4"/>
<circle class="t" cx="2798.7" cy="474.17" r="3.4"/>
<circle class="t" cx="2810.56" cy="474.17" r="3.4"/>
<circle class="t" cx="2820.65" cy="474.17" r="3.4"/>
<circle class="t" cx="2766.4" cy="640.93" r="3.4"/>
<circle class="t" cx="2778.51" cy="640.93" r="3.4"/>
<circle class="t" cx="2788.35" cy="641.44" r="3.4"/>
<circle class="t" cx="2798.7" cy="640.93" r="3.4"/>
<circle class="t" cx="2810.56" cy="640.93" r="3.4"/>
<circle class="t" cx="2820.65" cy="640.93" r="3.4"/>
<circle class="t" cx="2766.4" cy="651.78" r="3.4"/>
<circle class="t" cx="2777" cy="652.29" r="3.4"/>
<circle class="t" cx="2786.59" cy="653.55" r="3.4"/>
<circle class="t" cx="2798.7" cy="651.03" r="3.4"/>
<circle class="t" cx="2809.3" cy="651.03" r="3.4"/>
<circle class="t" cx="2819.39" cy="652.29" r="3.4"/>
<circle class="t" cx="2793.1" cy="387.9" r="34.3"/>
<circle class="t" cx="2793.1" cy="387.9" r="30.2"/>
<path class="t" d="M2809.6 387.9L2801.35 402.19L2784.85 402.19L2776.6 387.9L2784.85 373.61L2801.35 373.61Z"/>
<g transform="rotate(0 2793.1 387.9)">
<path class="t" d="M2755.1 387.9L2779.1 387.9"/>
<path class="t" d="M2807.1 387.9L2831.1 387.9"/>
<path class="t" d="M2788.6 387.9L2797.6 387.9"/>
<path class="t" d="M2793.1 383.4L2793.1 392.4"/>
<text class="cadb" x="2793.1" y="415.7" font-size="12.5" text-anchor="middle">M4</text>
</g>
<circle class="t" cx="2646.7" cy="641.4" r="34.3"/>
<circle class="t" cx="2646.7" cy="641.4" r="30.2"/>
<path class="t" d="M2663.2 641.4L2654.95 655.69L2638.45 655.69L2630.2 641.4L2638.45 627.11L2654.95 627.11Z"/>
<g transform="rotate(-120 2646.7 641.4)">
<path class="t" d="M2608.7 641.4L2632.7 641.4"/>
<path class="t" d="M2660.7 641.4L2684.7 641.4"/>
<path class="t" d="M2646.7 603.4L2646.7 627.9"/>
<path class="t" d="M2646.7 654.1L2646.7 679.4"/>
<path class="t" d="M2642.2 641.4L2651.2 641.4"/>
<path class="t" d="M2646.7 636.9L2646.7 645.9"/>
<text class="cadb" x="2646.7" y="669.2" font-size="12.5" text-anchor="middle">M4</text>
</g>
<circle class="t" cx="2939.5" cy="641.4" r="34.3"/>
<circle class="t" cx="2939.5" cy="641.4" r="30.2"/>
<path class="t" d="M2956 641.4L2947.75 655.69L2931.25 655.69L2923 641.4L2931.25 627.11L2947.75 627.11Z"/>
<g transform="rotate(120 2939.5 641.4)">
<path class="t" d="M2901.5 641.4L2925.5 641.4"/>
<path class="t" d="M2953.5 641.4L2977.5 641.4"/>
<path class="t" d="M2939.5 603.4L2939.5 627.9"/>
<path class="t" d="M2939.5 654.1L2939.5 679.4"/>
<path class="t" d="M2935 641.4L2944 641.4"/>
<path class="t" d="M2939.5 636.9L2939.5 645.9"/>
<text class="cadb" x="2939.5" y="669.2" font-size="12.5" text-anchor="middle">M4</text>
</g>
<path class="t" d="M39.6 1083.8L1068.4 1083.8" stroke-dasharray="114 23 23 23"/>
<path class="t" d="M39.6 1541.1L1068.4 1541.1" stroke-dasharray="114 23 23 23"/>
<path class="t" d="M39.6 1083.8L39.6 1541.1" stroke-dasharray="114 23 23 23" stroke-dashoffset="11.3"/>
<path class="t" d="M192.4 1083.8L192.4 1541.1" stroke-dasharray="114 23 23 23" stroke-dashoffset="11.3"/>
<path class="t" d="M1068.4 1083.8L1068.4 1541.1" stroke-dasharray="114 23 23 23" stroke-dashoffset="11.3"/>
<text class="zm" x="115" y="1238" font-size="82" text-anchor="middle">布</text>
<text class="zm" x="115" y="1344.6" font-size="82" text-anchor="middle">线</text>
<text class="zm" x="115" y="1451.2" font-size="82" text-anchor="middle">图</text>
<text class="cadl" x="510.3" y="1136.9" font-size="39.92" textLength="42" lengthAdjust="spacingAndGlyphs">12</text>
<text class="zb" x="557.8" y="1136" font-size="37.5">路</text>
<text class="cadl" x="623.5" y="1136.9" font-size="39.92" textLength="15.1" lengthAdjust="spacingAndGlyphs">*</text>
<text class="cadl" x="671.2" y="1136.9" font-size="39.92" textLength="46.6" lengthAdjust="spacingAndGlyphs">2A</text>
<text class="cadl" x="480" y="1192.8" font-size="39.92" textLength="155.1" lengthAdjust="spacingAndGlyphs">AWG26#</text>
<text class="zb" x="667.7" y="1191.5" font-size="40" textLength="79.2" lengthAdjust="spacingAndGlyphs">导线</text>
<path class="t" d="M230.3 1233.5L230.3 1212.6L1026.9 1212.6L1026.9 1233.5"/>
<text class="zb" x="253.6" y="1285" font-size="40" text-anchor="middle">黑</text>
<path class="t" d="M253.6 1302.3L253.6 1444.9"/>
<path class="t" d="M250.8 1434.4L253.6 1444.9L256.4 1434.4"/>
<circle class="t" cx="253.6" cy="1478.2" r="33.2"/>
<text class="cadl" x="253.6" y="1492.2" font-size="36.76" text-anchor="middle">1</text>
<text class="zb" x="321.07" y="1285" font-size="40" text-anchor="middle">褐</text>
<path class="t" d="M321.07 1302.3L321.07 1444.9"/>
<path class="t" d="M318.27 1434.4L321.07 1444.9L323.87 1434.4"/>
<circle class="t" cx="321.07" cy="1478.2" r="33.2"/>
<text class="cadl" x="321.07" y="1492.2" font-size="36.76" text-anchor="middle" textLength="18.6" lengthAdjust="spacingAndGlyphs">2</text>
<text class="zb" x="388.54" y="1285" font-size="40" text-anchor="middle">红</text>
<path class="t" d="M388.54 1302.3L388.54 1444.9"/>
<path class="t" d="M385.74 1434.4L388.54 1444.9L391.34 1434.4"/>
<circle class="t" cx="388.54" cy="1478.2" r="33.2"/>
<text class="cadl" x="388.54" y="1492.2" font-size="36.76" text-anchor="middle" textLength="18.6" lengthAdjust="spacingAndGlyphs">3</text>
<text class="zb" x="456.01" y="1285" font-size="40" text-anchor="middle">橙</text>
<path class="t" d="M456.01 1302.3L456.01 1444.9"/>
<path class="t" d="M453.21 1434.4L456.01 1444.9L458.81 1434.4"/>
<circle class="t" cx="456.01" cy="1478.2" r="33.2"/>
<text class="cadl" x="456.01" y="1492.2" font-size="36.76" text-anchor="middle" textLength="18.6" lengthAdjust="spacingAndGlyphs">4</text>
<text class="zb" x="523.48" y="1285" font-size="40" text-anchor="middle">黄</text>
<path class="t" d="M523.48 1302.3L523.48 1444.9"/>
<path class="t" d="M520.68 1434.4L523.48 1444.9L526.28 1434.4"/>
<circle class="t" cx="523.48" cy="1478.2" r="33.2"/>
<text class="cadl" x="523.48" y="1492.2" font-size="36.76" text-anchor="middle" textLength="18.6" lengthAdjust="spacingAndGlyphs">5</text>
<text class="zb" x="590.95" y="1285" font-size="40" text-anchor="middle">绿</text>
<path class="t" d="M590.95 1302.3L590.95 1444.9"/>
<path class="t" d="M588.15 1434.4L590.95 1444.9L593.75 1434.4"/>
<circle class="t" cx="590.95" cy="1478.2" r="33.2"/>
<text class="cadl" x="590.95" y="1492.2" font-size="36.76" text-anchor="middle" textLength="18.6" lengthAdjust="spacingAndGlyphs">6</text>
<text class="zb" x="658.42" y="1285" font-size="40" text-anchor="middle">蓝</text>
<path class="t" d="M658.42 1302.3L658.42 1444.9"/>
<path class="t" d="M655.62 1434.4L658.42 1444.9L661.22 1434.4"/>
<circle class="t" cx="658.42" cy="1478.2" r="33.2"/>
<text class="cadl" x="658.42" y="1492.2" font-size="36.76" text-anchor="middle" textLength="18.6" lengthAdjust="spacingAndGlyphs">7</text>
<text class="zb" x="725.89" y="1285" font-size="40" text-anchor="middle">紫</text>
<path class="t" d="M725.89 1302.3L725.89 1444.9"/>
<path class="t" d="M723.09 1434.4L725.89 1444.9L728.69 1434.4"/>
<circle class="t" cx="725.89" cy="1478.2" r="33.2"/>
<text class="cadl" x="725.89" y="1492.2" font-size="36.76" text-anchor="middle" textLength="18.6" lengthAdjust="spacingAndGlyphs">8</text>
<text class="zb" x="793.36" y="1285" font-size="40" text-anchor="middle">灰</text>
<path class="t" d="M793.36 1302.3L793.36 1444.9"/>
<path class="t" d="M790.56 1434.4L793.36 1444.9L796.16 1434.4"/>
<circle class="t" cx="793.36" cy="1478.2" r="33.2"/>
<text class="cadl" x="793.36" y="1492.2" font-size="36.76" text-anchor="middle" textLength="18.6" lengthAdjust="spacingAndGlyphs">9</text>
<text class="zb" x="860.83" y="1285" font-size="40" text-anchor="middle">白</text>
<path class="t" d="M860.83 1302.3L860.83 1444.9"/>
<path class="t" d="M858.03 1434.4L860.83 1444.9L863.63 1434.4"/>
<circle class="t" cx="860.83" cy="1478.2" r="33.2"/>
<text class="cadl" x="860.83" y="1492.2" font-size="36.76" text-anchor="middle" textLength="39.6" lengthAdjust="spacingAndGlyphs">10</text>
<path class="t" d="M928.3 1302.3L928.3 1444.9"/>
<path class="t" d="M925.5 1434.4L928.3 1444.9L931.1 1434.4"/>
<circle class="t" cx="928.3" cy="1478.2" r="33.2"/>
<text class="cadl" x="928.3" y="1492.2" font-size="36.76" text-anchor="middle" textLength="39.6" lengthAdjust="spacingAndGlyphs">11</text>
<path class="t" d="M995.77 1302.3L995.77 1444.9"/>
<path class="t" d="M992.97 1434.4L995.77 1444.9L998.57 1434.4"/>
<circle class="t" cx="995.77" cy="1478.2" r="33.2"/>
<text class="cadl" x="995.77" y="1492.2" font-size="36.76" text-anchor="middle" textLength="39.6" lengthAdjust="spacingAndGlyphs">12</text>
<text class="zb" x="928.4" y="1252.5" font-size="31" text-anchor="middle">粉</text>
<text class="zb" x="928.4" y="1293.5" font-size="31" text-anchor="middle">红</text>
<text class="zb" x="995.8" y="1252.5" font-size="31" text-anchor="middle">浅</text>
<text class="zb" x="995.8" y="1293.5" font-size="31" text-anchor="middle">蓝</text>
</svg>
</body></html>
